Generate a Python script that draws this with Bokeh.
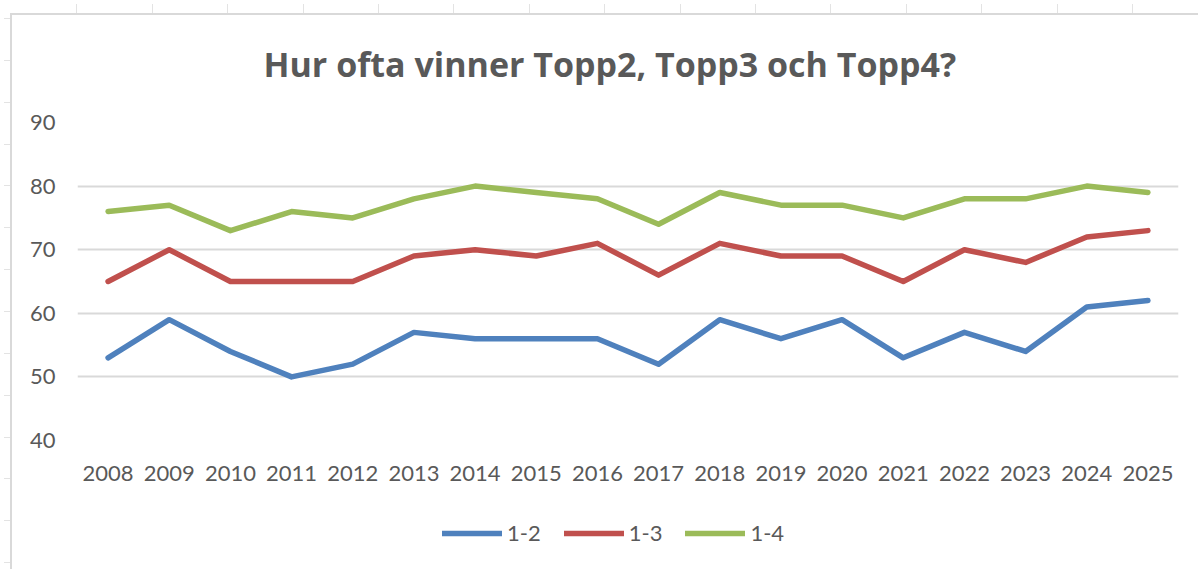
from bokeh.plotting import figure
from bokeh.models import Range1d, FactorRange, Legend, LegendItem, FixedTicker
from bokeh.layouts import column
from bokeh.embed import file_html
from bokeh.resources import INLINE

years = [str(y) for y in range(2008, 2026)]
top2 = [53, 59, 54, 50, 52, 57, 56, 56, 56, 52, 59, 56, 59, 53, 57, 54, 61, 62]
top3 = [65, 70, 65, 65, 65, 69, 70, 69, 71, 66, 71, 69, 69, 65, 70, 68, 72, 73]
top4 = [76, 77, 73, 76, 75, 78, 80, 79, 78, 74, 79, 77, 77, 75, 78, 78, 80, 79]
series_names = ["1-2", "1-3", "1-4"]
series_colors = ["#4F81BD", "#C0504D", "#9BBB59"]
y_ticks = [40, 50, 60, 70, 80, 90]
title_text = "Hur ofta vinner Topp2, Topp3 och Topp4?"

TXT = "#595959"
FONT = "Lato"
GRIDC = "#e3e3e3"

H1 = 500
H2 = 69

p = figure(width=1198, height=H1, x_range=FactorRange(*years), y_range=Range1d(40, 90),
           output_backend="svg", toolbar_location=None,
           min_border_left=77, min_border_right=20, min_border_top=122, min_border_bottom=H1 - 440)

p.background_fill_color = "white"
p.border_fill_alpha = 0
p.outline_line_color = None

bg1 = ("linear-gradient(#d9d9d9,#d9d9d9) 10px 13px / 2px 100% no-repeat, "
       "linear-gradient(#d9d9d9,#d9d9d9) 10px 13px / 100% 2px no-repeat, "
       f"repeating-linear-gradient(to right, transparent 0px, transparent 74.4px, {GRIDC} 74.4px, {GRIDC} 75.4px) 2.3px 4px / 100% 9px no-repeat, "
       f"repeating-linear-gradient(to bottom, transparent 0px, transparent 40.85px, {GRIDC} 40.85px, {GRIDC} 41.85px) 4px -22.85px / 6px 110% no-repeat, "
       "white")
p.styles = {"background": bg1}

# title
p.title.text = title_text
p.title.text_font = "Open Sans"
p.title.text_font_style = "bold"
p.title.text_font_size = "34px"
p.title.text_color = TXT
p.title.align = "left"
p.title.offset = 186
p.title.standoff = 72

# axes
p.xaxis.axis_line_color = None
p.xaxis.major_tick_line_color = None
p.xaxis.minor_tick_line_color = None
p.xaxis.major_tick_out = 0
p.xaxis.major_label_standoff = 25
p.xaxis.major_label_text_font = FONT
p.xaxis.major_label_text_font_size = "22px"
p.xaxis.major_label_text_color = TXT

p.yaxis.ticker = FixedTicker(ticks=y_ticks)
p.yaxis.axis_line_color = None
p.yaxis.major_tick_line_color = None
p.yaxis.minor_tick_line_color = None
p.yaxis.major_tick_out = 0
p.yaxis.major_label_standoff = 22
p.yaxis.major_label_text_font = FONT
p.yaxis.major_label_text_font_size = "22px"
p.yaxis.major_label_text_color = TXT

p.xgrid.grid_line_color = None
p.ygrid.grid_line_color = "#d9d9d9"
p.ygrid.grid_line_width = 2

all_series = [top2, top3, top4]
for vals, color in zip(all_series, series_colors):
    p.line(years, vals, line_color=color, line_width=5.5, line_cap="round", line_join="round")

# legend strip (separate figure so the legend is not clipped)
q = figure(width=1198, height=H2, x_range=Range1d(0, 1), y_range=Range1d(0, 1),
           output_backend="svg", toolbar_location=None,
           x_axis_location=None, y_axis_location=None,
           min_border=0)
q.background_fill_alpha = 0
q.border_fill_alpha = 0
q.outline_line_color = None
q.grid.grid_line_color = None
bg2 = ("linear-gradient(#d9d9d9,#d9d9d9) 10px 0px / 2px 100% no-repeat, "
       f"repeating-linear-gradient(to bottom, transparent 0px, transparent 40.85px, {GRIDC} 40.85px, {GRIDC} 41.85px) 4px -20.76px / 6px 200% no-repeat, "
       "white")
q.styles = {"background": bg2}

# legend proxies: same data, plotted outside this strip's visible range
year_nums = [int(y) for y in years]
leg_renderers = []
for vals, color in zip(all_series, series_colors):
    r = q.line(year_nums, vals, line_color=color, line_width=5.5, line_cap="round")
    leg_renderers.append(r)

legend = Legend(items=[LegendItem(label=n, renderers=[r]) for n, r in zip(series_names, leg_renderers)],
                orientation="horizontal", location=(365, 23),
                glyph_width=60, glyph_height=22, label_standoff=5, spacing=23,
                padding=0, margin=0, border_line_color=None, background_fill_alpha=0,
                label_text_font=FONT, label_text_font_size="22px", label_text_color=TXT)
q.add_layout(legend)

layout = column(p, q, spacing=0)
open("out.html", "w").write(file_html(layout, INLINE))
